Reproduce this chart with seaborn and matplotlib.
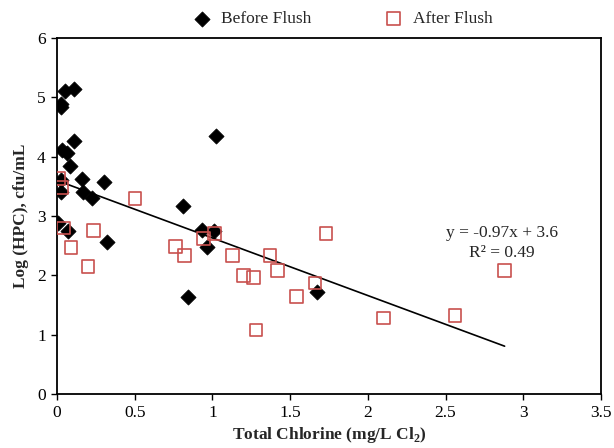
import matplotlib
matplotlib.use("Agg")
import matplotlib.pyplot as plt
import seaborn as sns
import numpy as np
import pandas as pd

# ---- data ----
before_x = [0.05, 0.11, 0.024, 0.024, 0.11, 0.034, 0.062, 0.084, 0.024, 0.024,
            0.163, 0.302, 0.17, 0.223, 0.009, 0.073, 0.324, 1.021, 0.809, 0.931,
            1.012, 0.963, 0.84, 1.671]
before_y = [5.11, 5.14, 4.89, 4.84, 4.26, 4.11, 4.07, 3.85, 3.60, 3.40,
            3.62, 3.58, 3.41, 3.30, 2.89, 2.75, 2.57, 4.35, 3.17, 2.76,
            2.74, 2.48, 1.64, 1.72]
after_x = [0.013, 0.03, 0.041, 0.234, 0.09, 0.502, 0.20, 0.942, 1.012, 0.76,
           0.82, 1.13, 1.37, 1.20, 1.263, 1.42, 1.731, 1.66, 1.542, 1.28,
           2.88, 2.10, 2.561]
after_y = [3.63, 3.48, 2.80, 2.75, 2.47, 3.30, 2.15, 2.62, 2.71, 2.48,
           2.34, 2.34, 2.34, 2.00, 1.96, 2.08, 2.70, 1.87, 1.64, 1.08,
           2.08, 1.28, 1.32]
trend_slope = -0.97
trend_intercept = 3.6
trend_x_range = [0.0, 2.88]
trend_label = "y = -0.97x + 3.6\nR² = 0.49"
x_ticks = [0, 0.5, 1, 1.5, 2, 2.5, 3, 3.5]
x_tick_labels = ["0", "0.5", "1", "1.5", "2", "2.5", "3", "3.5"]
y_ticks = [0, 1, 2, 3, 4, 5, 6]
series_names = ["Before Flush", "After Flush"]

sns.set_theme(style="ticks")
plt.rcParams['font.family'] = ['Liberation Serif', 'DejaVu Serif']
plt.rcParams['mathtext.fontset'] = 'custom'
plt.rcParams['mathtext.rm'] = 'Liberation Serif'
plt.rcParams['mathtext.bf'] = 'Liberation Serif:bold'

fig = plt.figure(figsize=(6.14, 4.48), dpi=100)
ax = fig.add_axes([0.0928, 0.1205, 0.886, 0.7945])

df_b = pd.DataFrame({"x": before_x, "y": before_y})
df_a = pd.DataFrame({"x": after_x, "y": after_y})

sns.scatterplot(data=df_b, x="x", y="y", ax=ax, marker="D", s=60,
                color="black", edgecolor="black", linewidth=0.5,
                label=series_names[0], zorder=3)
sns.scatterplot(data=df_a, x="x", y="y", ax=ax, marker="s", s=85,
                facecolor="none", edgecolor="#C8504E", linewidth=1.2,
                label=series_names[1], zorder=4)

tx = np.array(trend_x_range)
ax.plot(tx, trend_slope * tx + trend_intercept, color="black", lw=1.2, zorder=2)
ax.text(2.865, 2.55, trend_label, ha="center", va="center", fontsize=12.5,
        linespacing=1.35)

ax.set_xlim(0, 3.5)
ax.set_ylim(0, 6)
ax.set_xticks(x_ticks)
ax.set_xticklabels(x_tick_labels)
ax.set_yticks(y_ticks)
ax.tick_params(axis="both", direction="out", length=4, width=1, labelsize=12.5,
               colors="black", pad=4)
for s in ax.spines.values():
    s.set_visible(True)
    s.set_color("black")
    s.set_linewidth(1.3)

ax.set_xlabel(r"Total Chlorine (mg/L Cl$_\mathbf{2}$)", fontsize=12.5,
              fontweight="bold", labelpad=3)
ax.set_ylabel("Log (HPC), cfu/mL", fontsize=12.5, fontweight="bold", labelpad=6)

ax.legend_.remove()
handles, labels = ax.get_legend_handles_labels()
fig.legend(handles, labels, loc="center", ncol=2, bbox_to_anchor=(0.557, 0.957),
           frameon=False, fontsize=12.5, columnspacing=4.15, handletextpad=0.5,
           handlelength=1.2)

fig.savefig("out.png", dpi=100)
